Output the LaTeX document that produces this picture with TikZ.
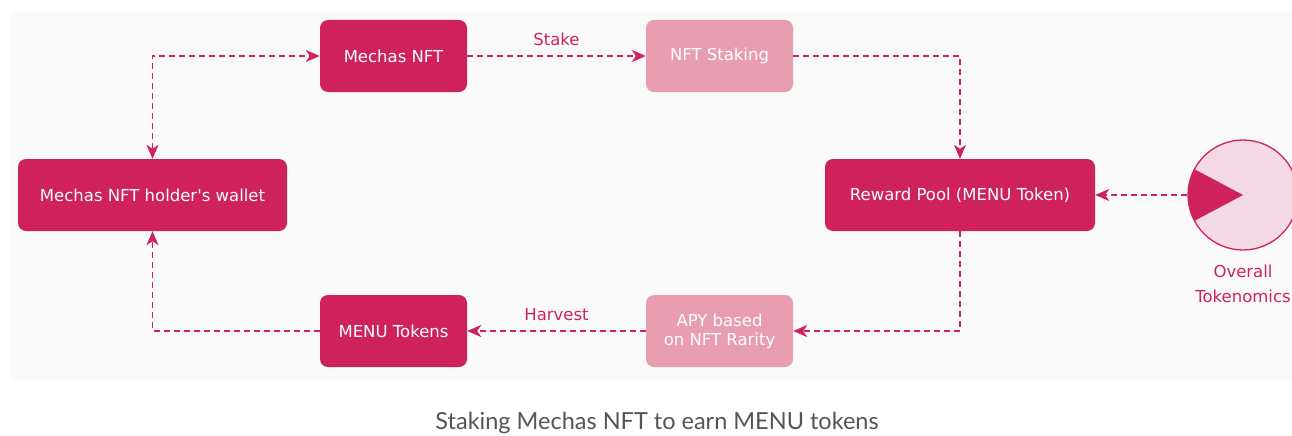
\documentclass[tikz,border=0pt]{standalone}
\usepackage{fontspec}
\setmainfont{DejaVu Sans}[Ligatures=TeXOff]
\newfontfamily\capfont{Lato}
\usetikzlibrary{arrows.meta}
\definecolor{mpink}{HTML}{CF225D}
\definecolor{lpink}{HTML}{E89DB0}
\definecolor{cpink}{HTML}{F3D8E5}
\definecolor{bgc}{HTML}{FAFAFA}
\definecolor{capc}{HTML}{555555}
\begin{document}
\begin{tikzpicture}[x=1pt,y=-1pt,
  box/.style={draw=none,rounded corners=8pt,minimum width=147pt,minimum height=72pt,inner sep=0pt,text=white,font=\fontsize{16.5}{19}\selectfont,align=center,anchor=center},
  dark/.style={box,fill=mpink},
  light/.style={box,fill=lpink},
  conn/.style={draw=mpink,line width=1.6pt,dash pattern=on 6pt off 4pt,-{Stealth[length=14pt,width=12pt,inset=4pt]}},
  lbl/.style={text=mpink,font=\fontsize{16.5}{25}\selectfont}]
\useasboundingbox (0,0) rectangle (1292,436);
\fill[bgc] (10,12) rectangle (1292,380);
\node[dark] (mech) at (393.5,56) {Mechas NFT};
\node[light] (stak) at (719.5,56) {NFT Staking};
\node[dark,minimum width=269pt] (wall) at (152.5,195) {Mechas NFT holder's wallet};
\node[dark,minimum width=270pt] (pool) at (960,195) {Reward Pool (MENU Token)};
\node[dark] (menu) at (393.5,331) {MENU Tokens};
\node[light] (apy) at (719.5,331) {APY based\\on NFT Rarity};
\begin{scope}
\clip (0,0) rectangle (1292,436);
\node[circle,draw=mpink,line width=1.3pt,fill=cpink,minimum size=110pt,inner sep=0pt] (pie) at (1243,195) {};
\fill[mpink] (1243,195) -- ++(152:55pt) arc[start angle=152,end angle=208,radius=55pt] -- cycle;
\end{scope}
\node[lbl,align=center] (tok) at (1243,284) {Overall\\Tokenomics};
\draw[conn,{Stealth[length=14pt,width=12pt,inset=4pt]}-{Stealth[length=14pt,width=12pt,inset=4pt]}] (wall.north) |- (mech.west);
\draw[conn] (mech.east) -- node[lbl,above=6pt] (stk) {Stake} (stak.west);
\draw[conn] (stak.east) -| (pool.north);
\draw[conn] (pie.west) -- (pool.east);
\draw[conn] (pool.south) |- (apy.east);
\draw[conn] (apy.west) -- node[lbl,above=6pt] (hv) {Harvest} (menu.east);
\draw[conn] (menu.west) -| (wall.south);
\node[text=capc,font=\capfont\fontsize{23.5}{28}\selectfont] (cap) at (657,423) {Staking Mechas NFT to earn MENU tokens};
\end{tikzpicture}
\end{document}
